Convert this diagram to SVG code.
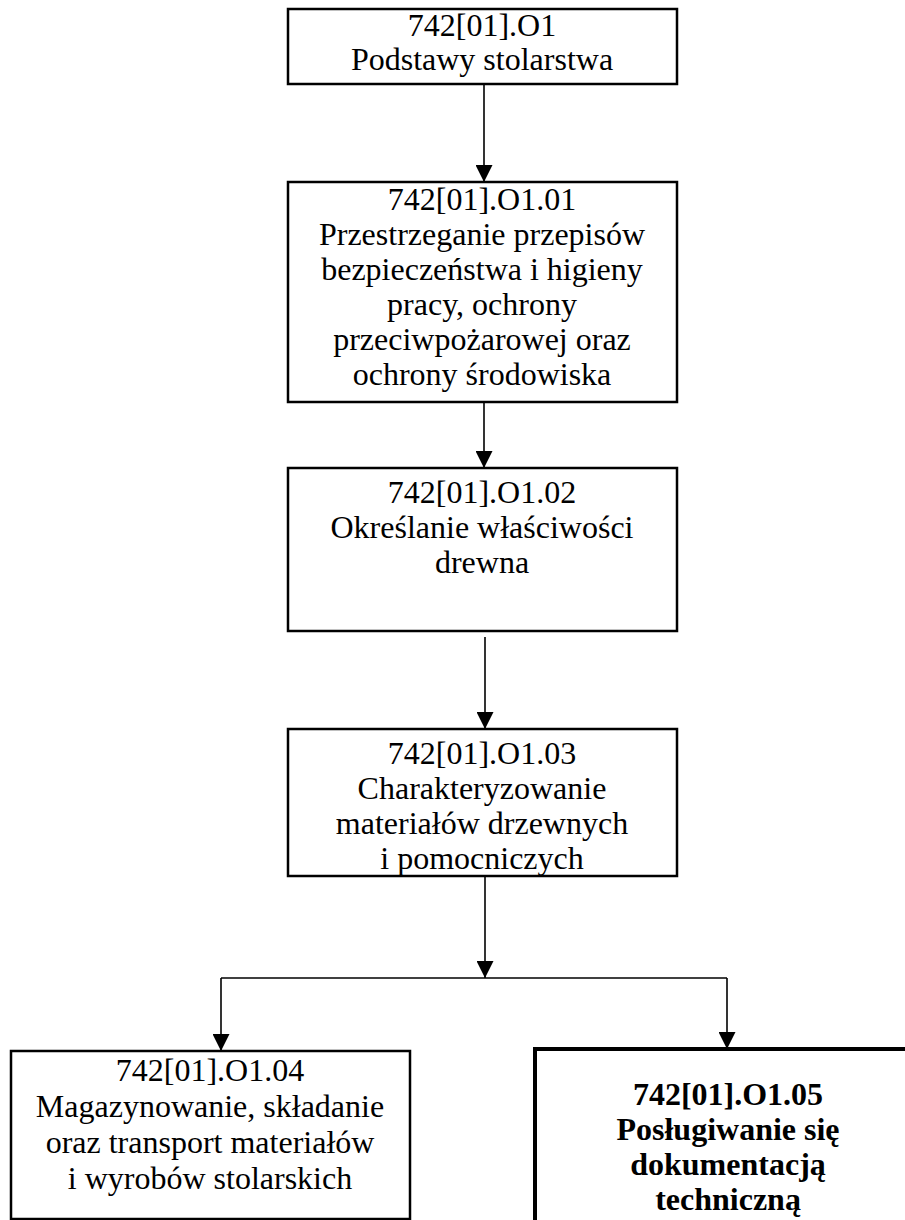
<svg xmlns="http://www.w3.org/2000/svg" width="905" height="1220" viewBox="0 0 905 1220">
<defs>
<marker id="ah" markerUnits="userSpaceOnUse" markerWidth="17" markerHeight="17" refX="17" refY="8.5" orient="auto" viewBox="0 0 17 17"><path d="M0,0 L17,8.5 L0,17 z" fill="#000"/></marker>
<style>
.box{fill:#fff;stroke:#000;stroke-width:2.5}
.thick{stroke-width:4}
text{font-family:"Liberation Serif","Times New Roman",serif;font-size:32px;text-anchor:middle;fill:#000}
.b{font-weight:bold}
.conn{stroke:#000;stroke-width:1.6;fill:none}
</style>
</defs>
<rect width="905" height="1220" fill="#fff"/>
<g id="connectors">
<line class="conn" x1="484" y1="84" x2="484" y2="182" marker-end="url(#ah)"/>
<line class="conn" x1="484" y1="402" x2="484" y2="468" marker-end="url(#ah)"/>
<line class="conn" x1="485" y1="637" x2="485" y2="729" marker-end="url(#ah)"/>
<line class="conn" x1="485" y1="876" x2="485" y2="978" marker-end="url(#ah)"/>
<path class="conn" d="M221,978 H727"/>
<line class="conn" x1="221" y1="978" x2="221" y2="1051" marker-end="url(#ah)"/>
<line class="conn" x1="727" y1="978" x2="727" y2="1049" marker-end="url(#ah)"/>
</g>
<g id="n1">
<rect class="box" x="288" y="9" width="389" height="75"/>
<text x="482" y="36">742[01].O1</text>
<text x="482" y="70">Podstawy stolarstwa</text>
</g>
<g id="n2">
<rect class="box" x="288" y="182" width="389" height="220"/>
<text x="482" y="210">742[01].O1.01</text>
<text x="482" y="245">Przestrzeganie przepisów</text>
<text x="482" y="280">bezpieczeństwa i higieny</text>
<text x="482" y="315">pracy, ochrony</text>
<text x="482" y="350">przeciwpożarowej oraz</text>
<text x="482" y="385">ochrony środowiska</text>
</g>
<g id="n3">
<rect class="box" x="288" y="468" width="389" height="163"/>
<text x="482" y="503">742[01].O1.02</text>
<text x="482" y="538">Określanie właściwości</text>
<text x="482" y="573">drewna</text>
</g>
<g id="n4">
<rect class="box" x="288" y="729" width="389" height="147"/>
<text x="482" y="764">742[01].O1.03</text>
<text x="482" y="799">Charakteryzowanie</text>
<text x="482" y="834">materiałów drzewnych</text>
<text x="482" y="869">i pomocniczych</text>
</g>
<g id="n5">
<rect class="box" x="11" y="1051" width="399" height="168"/>
<text x="210" y="1081">742[01].O1.04</text>
<text x="210" y="1117">Magazynowanie, składanie</text>
<text x="210" y="1153">oraz transport materiałów</text>
<text x="210" y="1189">i wyrobów stolarskich</text>
</g>
<g id="n6">
<rect class="box thick" x="535" y="1049" width="400" height="200"/>
<text class="b" x="728" y="1105">742[01].O1.05</text>
<text class="b" x="728" y="1140">Posługiwanie się</text>
<text class="b" x="728" y="1175">dokumentacją</text>
<text class="b" x="728" y="1210">techniczną</text>
</g>
</svg>
